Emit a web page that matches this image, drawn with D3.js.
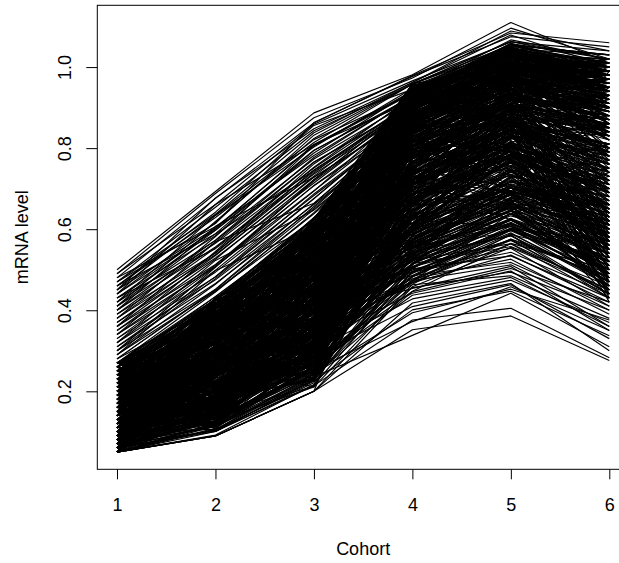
<!DOCTYPE html>
<html>
<head>
<meta charset="utf-8">
<script src="https://cdn.jsdelivr.net/npm/d3@7"></script>
<style>
  html, body { margin: 0; padding: 0; background: #fff; }
  svg { display: block; font-family: "Liberation Sans", Arial, sans-serif; }
</style>
</head>
<body>
<svg id="chart" width="619" height="563"></svg>
<script>
// Cohort positions on the x axis
const cohorts = [1, 2, 3, 4, 5, 6];
const xTicks = [1, 2, 3, 4, 5, 6];
const yTicks = [0.2, 0.4, 0.6, 0.8, 1.0];

// mRNA level per gene across cohorts 1..6
// genes already high in cohort 1
const earlyRisers = [
  [.50,.693,.887,.981,1.11,1.01],[.48,.676,.862,.979,1.084,1.06],[.49,.688,.875,.973,1.096,1.02],[.49,.661,.859,.966,1.062,1.04],
  [.47,.654,.843,.957,1.055,1.03],[.47,.637,.838,.962,1.079,1.0],[.46,.642,.856,.945,1.041,.99],[.46,.629,.814,.958,1.063,1.02],
  [.45,.635,.821,.934,1.057,.98],[.45,.603,.807,.941,1.038,1.0],[.44,.616,.832,.959,1.044,.97],[.44,.598,.795,.923,1.026,.99],
  [.43,.601,.809,.936,1.052,1.01],[.43,.584,.773,.917,1.005,.96],[.42,.597,.788,.942,1.039,.98],[.42,.572,.766,.905,1.011,.97],
  [.41,.589,.794,.928,1.023,.95],[.41,.565,.751,.914,.997,.98],[.40,.573,.777,.931,1.048,1.0],[.40,.556,.742,.899,1.004,.94],
  [.39,.568,.765,.903,1.016,.97],[.39,.541,.739,.916,.982,.96],[.38,.554,.753,.927,1.035,.99],[.38,.537,.728,.882,.979,.93],
  [.37,.542,.746,.905,1.001,.98],[.37,.529,.714,.898,.993,.95],[.36,.535,.731,.914,1.027,.97],[.36,.513,.707,.871,.968,.92],
  [.35,.526,.722,.909,.994,.96],[.35,.508,.695,.883,.986,.94],[.34,.511,.719,.896,1.012,.98],[.34,.494,.683,.867,.955,.9],
  [.33,.507,.708,.882,.979,.95],[.33,.482,.676,.875,.991,.93],[.32,.499,.694,.908,1.003,.97],[.32,.475,.661,.854,.947,.91],
  [.31,.483,.687,.871,.988,.94],[.31,.466,.652,.869,.964,.92],[.30,.478,.675,.883,.996,.96],[.30,.451,.649,.846,.932,.89],
  [.29,.464,.663,.877,.975,.93],[.29,.447,.638,.852,.959,.9],[.28,.452,.656,.865,.981,.95],[.28,.449,.624,.838,.923,.88],
  [.27,.445,.641,.864,.967,.92],[.27,.433,.617,.841,.948,.9],[.48,.606,.782,.929,1.004,.95],[.46,.588,.745,.903,.976,.93],
  [.44,.661,.809,.916,1.002,.96],[.42,.634,.803,.947,1.055,1.03],[.40,.607,.728,.882,.989,.92],[.38,.582,.806,.935,1.031,.99],
  [.36,.569,.664,.868,.953,.91],[.34,.545,.761,.924,1.027,1.0],[.32,.523,.647,.841,.948,.89],[.30,.506,.722,.909,1.014,.98],
  [.29,.498,.605,.823,.936,.87],[.28,.411,.629,.856,.972,.94],[.47,.614,.863,.977,1.075,1.05],[.45,.677,.848,.962,1.089,1.04],
  [.43,.552,.736,.895,.991,.95],[.41,.619,.824,.958,1.063,1.01]
];

// genes low early that reach the top range by cohort 4
const lateRisers = [
  [.05,.09,.2,.801,.958,.9],[.05,.106,.242,.869,.994,.96],[.06,.128,.305,.903,1.026,.98],[.06,.141,.289,.836,.932,.88],
  [.07,.114,.263,.887,1.005,1.01],[.07,.167,.348,.922,1.049,.99],[.08,.132,.316,.855,.971,.93],[.08,.189,.384,.918,1.033,1.02],
  [.09,.155,.291,.814,.927,.85],[.09,.203,.407,.941,1.058,1.0],[.1,.176,.362,.879,.984,.95],[.1,.228,.425,.903,1.016,.97],
  [.11,.191,.339,.846,.962,.91],[.11,.244,.453,.937,1.045,1.03],[.12,.217,.398,.892,1.009,.94],[.12,.262,.476,.925,1.021,.99],
  [.13,.239,.414,.868,.943,.89],[.13,.285,.501,.944,1.067,1.02],[.14,.253,.447,.881,.998,.96],[.14,.306,.522,.919,1.034,1.0],
  [.15,.278,.465,.853,.956,.87],[.15,.321,.559,.936,1.052,1.01],[.16,.294,.493,.907,1.025,.98],[.16,.347,.578,.922,1.049,.97],
  [.17,.312,.516,.875,.971,.92],[.17,.369,.584,.948,1.033,1.0],[.18,.335,.531,.894,1.017,.95],[.18,.383,.607,.931,1.058,1.02],
  [.19,.356,.552,.889,.984,.93],[.19,.408,.615,.953,1.046,.99],[.2,.371,.579,.906,1.002,.96],[.2,.414,.623,.927,1.025,1.0],
  [.21,.387,.588,.912,1.039,.97],[.22,.402,.606,.935,1.011,.94],[.23,.429,.614,.948,1.043,1.01],[.24,.395,.591,.894,.997,.95],
  [.25,.413,.627,.921,1.028,.98],[.26,.426,.602,.959,1.054,1.03],[.27,.428,.625,.933,1.036,.99],[.06,.191,.449,.896,1.012,.97],
  [.07,.234,.483,.917,1.005,.95],[.08,.277,.528,.932,1.039,1.0],[.09,.312,.566,.905,1.021,.98],[.1,.359,.584,.928,1.043,1.01],
  [.11,.145,.271,.794,.907,.84],[.12,.163,.307,.821,.938,.87],[.13,.186,.322,.849,.964,.9],[.14,.208,.355,.863,.986,.94],
  [.15,.221,.379,.806,.912,.86],[.16,.244,.403,.837,.945,.89],[.17,.267,.438,.872,.979,.92],[.18,.282,.466,.905,1.011,.96],
  [.19,.309,.484,.828,.923,.83],[.2,.325,.501,.854,.957,.9],[.21,.343,.527,.881,1.008,.94],[.22,.366,.542,.919,1.024,.99],
  [.23,.378,.565,.863,.966,.91],[.24,.381,.579,.896,1.002,.97],[.25,.394,.583,.847,.955,.88],[.26,.407,.598,.872,.989,.93]
];

// genes rising to intermediate levels
const midRisers = [
  [.05,.092,.216,.625,.721,.65],[.05,.119,.254,.708,.803,.74],[.06,.105,.221,.664,.787,.7],[.06,.133,.297,.741,.858,.81],
  [.07,.126,.272,.689,.764,.63],[.07,.158,.335,.773,.886,.84],[.08,.141,.269,.646,.742,.68],[.08,.174,.353,.797,.905,.86],
  [.09,.127,.248,.612,.719,.6],[.09,.192,.376,.725,.831,.77],[.1,.169,.304,.698,.793,.72],[.1,.215,.401,.804,.917,.88],
  [.11,.153,.287,.651,.758,.66],[.11,.236,.422,.769,.864,.8],[.12,.188,.345,.713,.826,.75],[.12,.251,.459,.816,.922,.9],
  [.13,.174,.313,.637,.735,.62],[.13,.277,.478,.782,.879,.79],[.14,.202,.366,.735,.841,.78],[.14,.299,.504,.808,.893,.83],
  [.15,.225,.381,.674,.777,.69],[.15,.313,.527,.751,.858,.76],[.16,.246,.412,.709,.814,.73],[.16,.338,.545,.823,.906,.87],
  [.17,.261,.439,.666,.792,.71],[.17,.354,.563,.787,.885,.82],[.18,.277,.448,.722,.809,.7],[.18,.372,.586,.805,.911,.85],
  [.19,.299,.464,.688,.783,.67],[.19,.395,.591,.774,.867,.8],[.2,.303,.477,.741,.848,.76],[.2,.416,.602,.819,.904,.84],
  [.21,.328,.495,.703,.826,.74],[.21,.361,.559,.766,.872,.81],[.22,.334,.503,.657,.765,.64],[.22,.407,.588,.792,.899,.86],
  [.23,.352,.526,.735,.831,.78],[.23,.429,.604,.828,.923,.89],[.24,.375,.541,.694,.807,.72],[.24,.383,.567,.751,.858,.79],
  [.25,.366,.532,.719,.814,.74],[.25,.418,.595,.803,.906,.83],[.26,.391,.559,.676,.792,.7],[.26,.434,.613,.787,.885,.84],
  [.27,.407,.578,.742,.869,.8],[.05,.142,.326,.735,.831,.79],[.06,.189,.384,.788,.893,.87],[.07,.205,.411,.754,.877,.83],
  [.08,.223,.447,.801,.918,.9],[.09,.246,.462,.719,.824,.76],[.1,.268,.485,.773,.886,.85],[.11,.281,.509,.686,.802,.73],
  [.12,.304,.533,.797,.905,.88],[.13,.327,.558,.722,.849,.77],[.14,.342,.576,.815,.891,.86],[.15,.179,.264,.608,.703,.61],
  [.16,.195,.301,.644,.747,.66],[.17,.213,.337,.671,.778,.7],[.18,.236,.362,.709,.804,.72],[.19,.258,.395,.633,.756,.65],
  [.2,.271,.429,.666,.782,.69],[.21,.294,.453,.737,.855,.8],[.22,.317,.478,.762,.879,.83],[.23,.332,.486,.625,.741,.63],
  [.24,.349,.504,.708,.833,.77],[.25,.355,.511,.644,.777,.68],[.26,.373,.537,.721,.848,.79],[.27,.386,.542,.669,.794,.71]
];

// genes with a modest rise
const slowRisers = [
  [.05,.09,.2,.458,.555,.45],[.05,.101,.229,.506,.602,.52],[.06,.114,.233,.477,.575,.48],[.06,.127,.268,.532,.639,.55],
  [.07,.102,.216,.495,.591,.46],[.07,.139,.284,.568,.663,.58],[.08,.125,.241,.514,.617,.5],[.08,.153,.307,.581,.688,.61],
  [.09,.136,.252,.469,.564,.43],[.09,.168,.325,.553,.646,.54],[.1,.141,.279,.526,.622,.51],[.1,.184,.343,.597,.695,.63],
  [.11,.157,.298,.482,.589,.47],[.11,.192,.366,.575,.671,.6],[.12,.179,.304,.508,.613,.53],[.12,.215,.381,.604,.707,.65],
  [.13,.183,.327,.541,.638,.49],[.13,.236,.402,.589,.684,.57],[.14,.208,.335,.473,.586,.44],[.14,.241,.429,.616,.702,.62],
  [.15,.214,.353,.537,.645,.56],[.15,.267,.448,.562,.669,.52],[.16,.222,.366,.495,.601,.5],[.16,.289,.464,.598,.693,.64],
  [.17,.245,.381,.524,.627,.47],[.17,.303,.487,.601,.708,.58],[.18,.256,.392,.559,.654,.54],[.18,.318,.505,.623,.716,.66],
  [.19,.271,.419,.506,.602,.46],[.19,.334,.513,.587,.685,.6],[.2,.287,.428,.542,.659,.55],[.2,.342,.526,.615,.701,.63],
  [.21,.309,.444,.518,.623,.49],[.22,.325,.461,.574,.677,.59],[.23,.333,.477,.531,.648,.52],[.24,.356,.492,.609,.694,.62],
  [.25,.368,.505,.563,.666,.57],[.26,.381,.529,.626,.702,.64],[.05,.114,.253,.557,.655,.59],[.06,.147,.298,.572,.679,.61],
  [.07,.162,.336,.605,.701,.64],[.08,.189,.354,.548,.623,.53],[.09,.205,.381,.594,.687,.6],[.1,.223,.407,.521,.638,.5],
  [.11,.246,.432,.589,.694,.62],[.12,.268,.455,.553,.666,.56],[.13,.271,.479,.616,.712,.65],[.14,.294,.493,.577,.685,.58],
  [.15,.197,.298,.482,.599,.48],[.16,.202,.316,.515,.611,.51],[.17,.219,.344,.468,.573,.44],[.18,.235,.351,.534,.637,.54],
  [.19,.243,.377,.491,.608,.47],[.2,.266,.392,.569,.674,.58],[.21,.278,.405,.503,.626,.5],[.22,.291,.439,.556,.652,.55]
];

// genes with irregular profiles inside the main band
const irregularGenes = [
  [.21,.144,.383,.717,.935,.84],[.08,.357,.298,.882,.769,.95],[.16,.272,.526,.635,1.001,.78],[.25,.199,.444,.928,.853,.67],
  [.11,.405,.331,.764,.977,.9],[.06,.233,.577,.841,.688,.99],[.19,.316,.252,.679,.894,.62],[.13,.168,.485,.943,1.036,.86],
  [.24,.371,.369,.596,.802,.93],[.09,.284,.603,.817,.955,.74],[.17,.427,.418,.902,.729,.58],[.27,.212,.316,.735,.991,.97],
  [.07,.339,.464,.658,.873,.81],[.2,.115,.541,.864,1.027,.69],[.14,.393,.277,.781,.918,1.0],[.23,.256,.592,.959,.834,.88],
  [.1,.188,.355,.693,1.046,.92],[.26,.341,.509,.826,.662,.55],[.05,.294,.433,.917,.985,.83],[.18,.427,.228,.612,.799,.73],
  [.12,.202,.566,.755,.941,1.01],[.22,.309,.394,.878,1.053,.76],[.08,.385,.611,.934,.887,.94],[.15,.133,.307,.701,.828,.64],
  [.25,.326,.472,.589,.904,.87],[.06,.248,.345,.853,1.016,.98],[.19,.411,.589,.796,.742,.6],[.11,.174,.233,.647,.965,.89],
  [.27,.367,.558,.892,1.009,.8],[.09,.262,.426,.945,.861,.72],[.16,.109,.284,.778,.923,.96],[.21,.405,.601,.834,.707,.66],
  [.07,.223,.377,.681,.998,1.02],[.24,.286,.512,.929,1.044,.91],[.13,.358,.455,.603,.846,.77],[.18,.151,.339,.886,.972,.85],
  [.05,.314,.533,.747,.905,.93],[.26,.427,.408,.862,.789,.7],[.1,.192,.266,.665,1.031,.99],[.2,.339,.624,.958,.943,.82],
  [.14,.245,.361,.724,.887,.57],[.23,.383,.497,.801,1.028,.95],[.06,.146,.212,.629,.774,.86],[.17,.298,.575,.913,.966,.75],
  [.27,.251,.329,.696,.852,.92],[.12,.424,.473,.847,1.055,1.0],[.08,.207,.398,.932,.819,.63],[.22,.122,.276,.575,.731,.68],
  [.15,.369,.594,.878,.993,.9],[.25,.305,.441,.764,.917,.97],[.1,.273,.317,.901,1.018,.79],[.19,.396,.552,.659,.804,.84],
  [.05,.168,.425,.823,.936,.96],[.24,.221,.359,.946,1.032,1.02],[.13,.344,.523,.717,.695,.59],[.07,.417,.608,.892,.959,.87],
  [.2,.182,.246,.605,.861,.78],[.16,.269,.484,.858,1.003,.94],[.26,.375,.381,.774,.907,.71],[.11,.133,.297,.921,.978,.99],
  [.21,.326,.612,.939,.844,.81],[.09,.428,.455,.683,.926,.9],[.18,.211,.349,.746,1.042,.96],[.23,.154,.503,.887,.795,.65],
  [.06,.287,.578,.632,.889,.93],[.14,.352,.266,.795,.981,.85],[.27,.409,.534,.918,1.023,.98],[.1,.235,.401,.864,.747,.69],
  [.17,.113,.227,.661,.838,.8],[.25,.296,.582,.959,.994,.91],[.08,.368,.465,.733,.956,1.01],[.2,.261,.309,.816,.872,.74],
  [.12,.184,.433,.907,1.055,.92],[.22,.427,.628,.842,.979,.88],[.05,.122,.336,.705,.901,.83],[.15,.319,.494,.648,.763,.72],
  [.26,.205,.361,.874,1.017,1.0],[.1,.383,.547,.931,.898,.79],[.19,.246,.282,.759,.944,.95],[.07,.308,.595,.893,1.036,.86],
  [.24,.411,.479,.676,.822,.9],[.13,.144,.373,.837,.965,.97],[.21,.347,.568,.942,.919,.76],[.09,.222,.246,.625,.811,.7],
  [.17,.399,.414,.788,1.003,.99],[.27,.175,.521,.924,.987,.84],[.06,.273,.357,.851,1.048,.93],[.16,.336,.602,.719,.864,.81],
  [.23,.108,.295,.663,.926,.88],[.11,.371,.449,.906,.952,1.02],[.2,.284,.513,.807,.755,.61],[.14,.427,.588,.952,1.029,.97],
  [.05,.192,.326,.745,.991,.94],[.25,.239,.404,.888,.903,.73],[.08,.325,.551,.614,.837,.85],[.18,.163,.257,.861,1.018,.95],
  [.22,.396,.482,.939,.974,.89],[.12,.258,.625,.793,.886,.78],[.26,.351,.379,.706,.952,.99],[.1,.124,.453,.917,1.035,.9]
];

// further genes reaching the upper range
const highGenes = [
  [.19,.307,.278,.842,.999,1.0],[.07,.202,.506,.925,1.051,.94],[.24,.419,.434,.888,.933,.87],[.13,.265,.561,.954,1.007,.98],
  [.05,.333,.387,.811,.978,.91],[.21,.136,.312,.909,1.024,1.01],[.16,.388,.615,.863,.946,.85],[.27,.241,.469,.936,1.042,.96],
  [.09,.174,.233,.807,.925,.93],[.18,.367,.538,.912,.999,.88],[.11,.292,.406,.875,1.031,1.02],[.25,.424,.594,.948,.963,.9],
  [.06,.155,.341,.834,.957,.97],[.2,.323,.497,.891,1.018,.92],[.14,.216,.282,.859,.984,.86],[.23,.378,.605,.923,1.056,1.0],
  [.08,.251,.449,.786,.912,.95],[.17,.404,.363,.947,1.005,.93],[.26,.187,.528,.882,.979,.99],[.12,.312,.576,.905,1.041,.87],
  [.05,.109,.264,.868,.933,.91],[.22,.345,.421,.834,1.027,.97],[.15,.273,.557,.951,.998,1.01],[.1,.396,.482,.879,.954,.89],
  [.19,.148,.325,.913,1.036,.95],[.27,.331,.619,.936,1.002,.92],[.07,.234,.393,.827,.965,.98],[.24,.427,.508,.892,1.059,.94],
  [.13,.202,.296,.845,.921,.88],[.2,.359,.584,.948,1.013,1.0],[.09,.285,.371,.804,.987,.96],[.16,.123,.477,.921,1.048,.9],
  [.25,.386,.542,.869,.944,.97],[.06,.308,.625,.953,1.026,.93],[.18,.221,.309,.856,.992,1.02],[.11,.414,.453,.907,.975,.86],
  [.21,.167,.248,.832,.959,.92],[.14,.262,.526,.935,1.031,.99],[.26,.409,.414,.888,1.003,.95],[.08,.345,.591,.914,.967,.89],
  [.14,.303,.477,.841,.908,.97],[.26,.146,.382,.919,.984,.82],[.09,.408,.565,.873,1.056,.99],[.19,.241,.339,.936,.932,.88],
  [.05,.364,.603,.897,1.015,.95],[.23,.197,.428,.822,.979,1.02],[.11,.332,.506,.955,.921,.84],[.17,.279,.264,.868,1.023,.91],
  [.25,.395,.531,.904,.957,.98],[.08,.113,.357,.941,1.008,.93]
];

// genes peaking in cohort 5 and dropping back in cohort 6
const peakingGenes = [
  [.12,.276,.442,.629,.794,.51],[.2,.158,.335,.753,.686,.47],[.07,.361,.529,.586,.832,.66],[.25,.224,.293,.817,.745,.55],
  [.15,.407,.588,.672,.909,.43],[.09,.192,.266,.545,.711,.62],[.22,.319,.474,.718,.623,.49],[.05,.255,.381,.604,.877,.77],
  [.18,.133,.557,.831,.788,.53],[.27,.386,.352,.659,.694,.7],[.11,.218,.415,.523,.766,.45],[.16,.331,.239,.776,.932,.59],
  [.24,.174,.503,.637,.665,.8],[.08,.427,.608,.722,.859,.48],[.19,.282,.326,.565,.731,.67],[.13,.119,.454,.798,.813,.52],
  [.26,.355,.571,.694,.647,.74],[.06,.233,.287,.611,.898,.57],[.21,.406,.422,.749,.704,.44],[.1,.168,.365,.573,.806,.69],
  [.17,.301,.539,.846,.772,.61],[.23,.204,.253,.597,.725,.5],[.14,.377,.498,.662,.929,.82],[.05,.122,.316,.735,.671,.46],
  [.27,.269,.594,.538,.753,.63],[.12,.425,.391,.804,.867,.56],[.2,.183,.227,.641,.638,.72],[.09,.326,.542,.709,.844,.42],
  [.25,.248,.465,.583,.786,.65],[.16,.141,.349,.766,.912,.54],[.07,.394,.273,.557,.695,.49],[.22,.297,.568,.682,.829,.76],
  [.11,.202,.436,.825,.701,.6],[.18,.349,.304,.628,.883,.71],[.26,.115,.511,.744,.657,.45],[.06,.273,.377,.511,.748,.58],
  [.15,.416,.612,.789,.874,.64],[.23,.228,.245,.603,.776,.53],[.1,.351,.489,.716,.942,.85],[.19,.154,.403,.857,.805,.47],
  [.05,.307,.578,.572,.719,.68],[.24,.382,.336,.735,.831,.55],[.13,.179,.264,.658,.683,.43],[.21,.255,.501,.794,.907,.79],
  [.08,.133,.357,.611,.768,.62],[.27,.336,.452,.539,.644,.52],[.14,.428,.555,.753,.856,.73],[.17,.191,.299,.676,.732,.48],
  [.09,.284,.423,.807,.955,.84],[.22,.367,.608,.592,.799,.57],[.12,.242,.316,.705,.661,.66],[.25,.129,.384,.838,.883,.5],
  [.06,.315,.521,.644,.817,.44],[.18,.393,.367,.561,.708,.61],[.1,.106,.232,.779,.844,.75],[.2,.268,.475,.623,.606,.54],
  [.15,.341,.589,.726,.862,.46],[.26,.214,.283,.687,.785,.69],[.07,.377,.448,.822,.929,.58],[.23,.162,.546,.585,.741,.81],
  [.11,.299,.334,.668,.693,.51],[.16,.425,.491,.784,.837,.64],[.05,.203,.277,.551,.728,.56],[.21,.326,.592,.749,.894,.47],
  [.13,.158,.405,.633,.766,.7],[.27,.391,.359,.716,.802,.6],[.08,.234,.463,.847,.875,.53],[.19,.277,.308,.602,.659,.45],
  [.24,.352,.566,.765,.931,.78],[.12,.189,.374,.678,.793,.66]
];

// genes with a late peak in the upper middle range
const latePeakGenes = [
  [.14,.263,.418,.712,.846,.58],[.22,.187,.356,.804,.928,.66],[.08,.342,.537,.655,.781,.52],[.19,.226,.281,.739,.872,.69],
  [.11,.391,.466,.868,.957,.74],[.25,.153,.329,.627,.813,.55],[.06,.297,.583,.781,.904,.62],[.17,.418,.394,.693,.752,.48],
  [.27,.244,.502,.846,.987,.77],[.1,.179,.247,.604,.736,.65],[.2,.358,.612,.757,.891,.53],[.13,.126,.372,.829,.943,.71],
  [.24,.317,.441,.676,.824,.86],[.07,.205,.297,.745,.962,.57],[.16,.402,.548,.893,.873,.64],[.21,.268,.333,.631,.795,.45],
  [.09,.151,.489,.812,.918,.79],[.26,.379,.405,.724,.857,.6],[.12,.233,.561,.668,.764,.54],[.18,.337,.258,.774,.936,.68],
  [.05,.186,.427,.853,.884,.5],[.23,.414,.591,.709,.812,.73],[.15,.112,.316,.642,.906,.61],[.27,.289,.524,.797,.842,.47],
  [.08,.365,.375,.886,.975,.83],[.19,.197,.448,.616,.748,.56],[.13,.308,.287,.731,.867,.76],[.25,.256,.606,.838,.951,.63],
  [.06,.432,.512,.684,.793,.49],[.17,.164,.343,.766,.899,.72],[.22,.346,.478,.823,.782,.58],[.1,.273,.232,.657,.833,.67],
  [.2,.118,.397,.742,.969,.8],[.14,.386,.563,.871,.915,.55],[.26,.212,.318,.603,.771,.52],[.07,.329,.454,.796,.884,.69],
  [.18,.248,.597,.713,.853,.44],[.11,.425,.338,.848,.938,.78],[.23,.171,.271,.675,.806,.59],[.16,.296,.518,.781,.892,.65]
];

// genes settling at middle and lower levels
const moderateGenes = [
  [.17,.135,.351,.584,.717,.75],[.23,.303,.277,.661,.848,.62],[.1,.246,.512,.729,.794,.69],[.05,.388,.445,.553,.686,.73],
  [.2,.181,.229,.636,.902,.8],[.13,.294,.573,.777,.735,.57],[.26,.417,.338,.522,.659,.6],[.07,.202,.406,.695,.861,.88],
  [.19,.359,.294,.608,.773,.66],[.15,.115,.461,.744,.827,.7],[.24,.273,.537,.571,.728,.77],[.09,.326,.362,.709,.944,.82],
  [.21,.428,.605,.763,.806,.68],[.12,.161,.259,.546,.692,.63],[.27,.234,.423,.687,.875,.85],[.06,.347,.318,.612,.769,.71],
  [.18,.192,.556,.785,.911,.74],[.11,.379,.484,.538,.703,.65],[.22,.265,.211,.644,.817,.79],[.14,.403,.587,.721,.898,.61],
  [.08,.146,.372,.599,.744,.56],[.25,.318,.455,.753,.856,.83],[.16,.221,.279,.676,.782,.72],[.05,.284,.523,.567,.665,.62],
  [.2,.397,.348,.732,.929,.87],[.1,.172,.436,.625,.801,.75],[.23,.369,.594,.798,.883,.7],[.13,.255,.301,.514,.677,.59],
  [.27,.423,.497,.701,.838,.78],[.07,.126,.242,.659,.844,.81],[.09,.218,.285,.503,.626,.54],[.18,.151,.399,.486,.602,.57],
  [.06,.274,.233,.537,.645,.49],[.22,.117,.328,.472,.639,.52],[.12,.322,.446,.555,.611,.47],[.25,.209,.264,.528,.663,.6],
  [.15,.125,.211,.464,.587,.53],[.05,.243,.367,.581,.658,.56],[.2,.296,.412,.499,.574,.44],[.1,.148,.305,.543,.646,.58],
  [.16,.101,.229,.516,.622,.55],[.08,.184,.273,.447,.565,.5],[.24,.267,.358,.572,.689,.61],[.13,.222,.246,.505,.601,.48],
  [.19,.169,.294,.538,.633,.57],[.06,.135,.251,.484,.597,.52],[.27,.333,.387,.551,.648,.46],[.11,.286,.332,.529,.614,.54],
  [.21,.198,.265,.473,.576,.49],[.07,.151,.319,.566,.672,.59]
];

// genes that stay low and fall back by cohort 6
const lowResponders = [
  [.05,.09,.2,.352,.386,.276],[.06,.101,.214,.376,.405,.283],[.07,.113,.236,.338,.442,.31],[.06,.104,.225,.401,.447,.337],
  [.08,.126,.252,.372,.458,.35],[.05,.09,.2,.418,.466,.3],[.09,.137,.243,.394,.452,.376],[.07,.122,.263,.437,.481,.36],
  [.1,.146,.284,.409,.463,.33],[.08,.133,.277,.456,.494,.4],[.11,.158,.302,.428,.474,.37],[.06,.117,.238,.446,.503,.42],
  [.12,.171,.295,.473,.512,.39],[.09,.143,.313,.485,.518,.41],[.13,.185,.321,.442,.497,.35],[.1,.163,.336,.502,.534,.43],
  [.14,.196,.347,.463,.485,.38],[.07,.128,.256,.494,.543,.44],[.15,.212,.364,.477,.526,.4],[.11,.176,.353,.515,.557,.46],
  [.16,.224,.386,.454,.508,.36],[.08,.154,.309,.523,.564,.45],[.12,.197,.372,.468,.536,.42],[.17,.245,.403,.507,.572,.48],
  [.1,.182,.345,.536,.583,.47],[.13,.216,.392,.496,.553,.41],[.18,.263,.427,.544,.596,.49],[.09,.165,.324,.553,.607,.5],
  [.14,.238,.416,.527,.585,.43],[.2,.281,.443,.565,.614,.51]
];

const profiles = [
  ...earlyRisers, ...lateRisers, ...midRisers, ...slowRisers, ...irregularGenes,
  ...highGenes, ...peakingGenes, ...latePeakGenes, ...moderateGenes, ...lowResponders
];

const svg = d3.select("#chart");
const plot = { left: 97.3, right: 629, top: 5.3, bottom: 469.3 };
const fontSize = 18;

// axis ranges padded by 4% on each side
function padded(lo, hi) {
  const p = (hi - lo) * 0.04;
  return [lo - p, hi + p];
}
const allValues = profiles.flat();
const x = d3.scaleLinear()
  .domain(padded(d3.min(cohorts), d3.max(cohorts)))
  .range([plot.left, plot.right]);
const y = d3.scaleLinear()
  .domain(padded(d3.min(allValues), d3.max(allValues)))
  .range([plot.bottom, plot.top]);

const line = d3.line()
  .x((d, i) => x(cohorts[i]))
  .y(d => y(d));

// one polyline per gene
svg.append("g")
  .selectAll("path")
  .data(profiles)
  .join("path")
  .attr("d", line)
  .attr("fill", "none")
  .attr("stroke", "#000")
  .attr("stroke-width", 1.15)
  .attr("stroke-linejoin", "round");

// x axis
const xAxis = svg.append("g")
  .attr("transform", `translate(0,${plot.bottom})`)
  .call(d3.axisBottom(x).tickValues(xTicks).tickSize(10).tickPadding(0).tickFormat(d3.format("d")));
xAxis.select(".domain").remove();
xAxis.selectAll(".tick line").attr("stroke", "#000");
xAxis.selectAll(".tick text")
  .attr("y", 41.4).attr("dy", null)
  .attr("font-size", fontSize).attr("font-family", "Liberation Sans, Arial, sans-serif")
  .attr("fill", "#000");

// y axis with labels turned parallel to the axis
const yAxis = svg.append("g")
  .attr("transform", `translate(${plot.left},0)`)
  .call(d3.axisLeft(y).tickValues(yTicks).tickSize(11).tickFormat(d3.format(".1f")));
yAxis.select(".domain").remove();
yAxis.selectAll(".tick line").attr("stroke", "#000");
yAxis.selectAll(".tick text")
  .attr("x", null).attr("dy", null)
  .attr("text-anchor", "middle")
  .attr("dominant-baseline", "central")
  .attr("transform", `translate(${64.5 - plot.left},0) rotate(-90)`)
  .attr("font-size", fontSize).attr("font-family", "Liberation Sans, Arial, sans-serif")
  .attr("fill", "#000");

// plot frame
svg.append("rect")
  .attr("x", plot.left).attr("y", plot.top)
  .attr("width", plot.right - plot.left).attr("height", plot.bottom - plot.top)
  .attr("fill", "none").attr("stroke", "#000").attr("stroke-width", 1);

// axis titles
svg.append("text")
  .attr("x", (plot.left + plot.right) / 2).attr("y", 555)
  .attr("text-anchor", "middle")
  .attr("font-size", fontSize)
  .text("Cohort");
svg.append("text")
  .attr("transform", `translate(21.5,${(plot.top + plot.bottom) / 2}) rotate(-90)`)
  .attr("text-anchor", "middle")
  .attr("dominant-baseline", "central")
  .attr("font-size", fontSize)
  .text("mRNA level");
</script>
</body>
</html>
